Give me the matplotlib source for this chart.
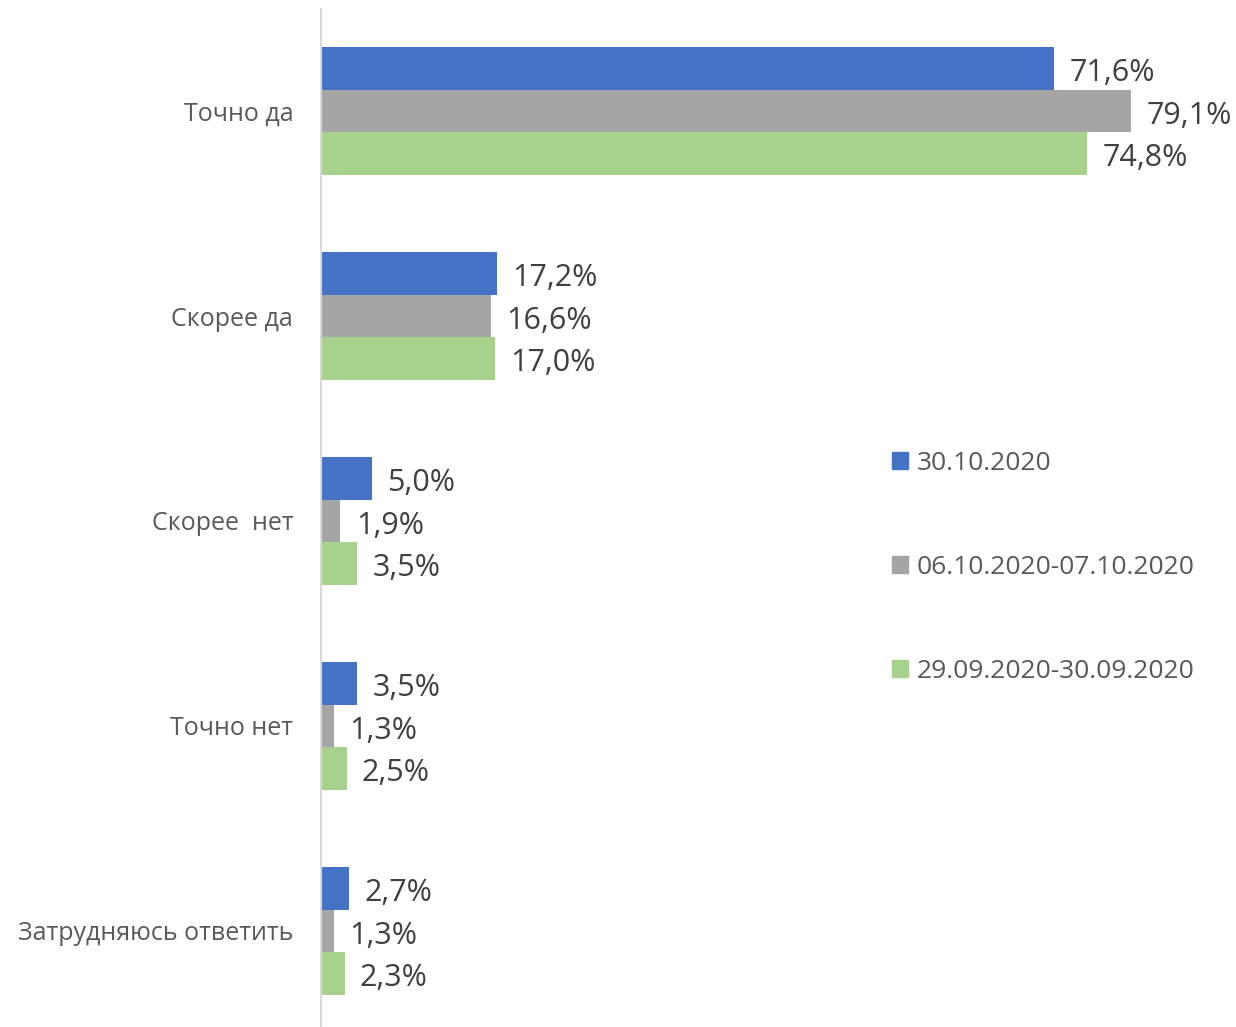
import matplotlib
matplotlib.use("Agg")
import matplotlib.pyplot as plt
import numpy as np
from matplotlib.patches import Patch

plt.rcParams['font.family'] = ['Open Sans', 'DejaVu Sans']

categories = ["Точно да", "Скорее да", "Скорее  нет", "Точно нет", "Затрудняюсь ответить"]
series_names = ["30.10.2020", "06.10.2020-07.10.2020", "29.09.2020-30.09.2020"]
s1 = [71.6, 17.2, 5.0, 3.5, 2.7]
s2 = [79.1, 16.6, 1.9, 1.3, 1.3]
s3 = [74.8, 17.0, 3.5, 2.5, 2.3]
colors = ["#4472C4", "#A5A5A5", "#A9D18E"]

W, H = 1236, 1027
fig = plt.figure(figsize=(W / 100, H / 100), dpi=100)
ax_left, ax_right, ax_top, ax_bot = 321, 1236, 9, 1027
ax = fig.add_axes([ax_left / W, 1 - ax_bot / H, (ax_right - ax_left) / W, (ax_bot - ax_top) / H])

y = np.arange(len(categories))
bh = 42.5 / 205
for i, (vals, c) in enumerate(zip([s1, s2, s3], colors)):
    yy = y + (i - 1) * bh
    ax.barh(yy, vals, height=bh, color=c, label=series_names[i])
    for v, yv in zip(vals, yy):
        ax.text(v + 1.5, yv + 0.005, f"{v:.1f}%".replace(".", ","), va="center_baseline", ha="left",
                fontsize=22, color="#404040")

ax.set_xlim(0, (ax_right - ax_left) / 10.24)
ax.set_ylim(4 + (1027 - 931) / 205, -(111 - 9) / 205)
ax.set_yticks(y)
ax.set_yticklabels(categories, fontsize=18, color="#595959")
ax.tick_params(axis="y", length=0, pad=20)
ax.set_xticks([])
for s in ["top", "right", "bottom"]:
    ax.spines[s].set_visible(False)
ax.spines["left"].set_color("#D9D9D9")
ax.spines["left"].set_linewidth(1.5)

handles = [Patch(color=c) for c in colors]
leg = fig.legend(handles, series_names, loc="upper left",
                 bbox_to_anchor=(868 / W, 1 - 427 / H), frameon=False,
                 fontsize=19, labelcolor="#595959", handlelength=0.6, handleheight=0.6,
                 handletextpad=0.35, labelspacing=3.0)

fig.savefig("out.png", dpi=100)
